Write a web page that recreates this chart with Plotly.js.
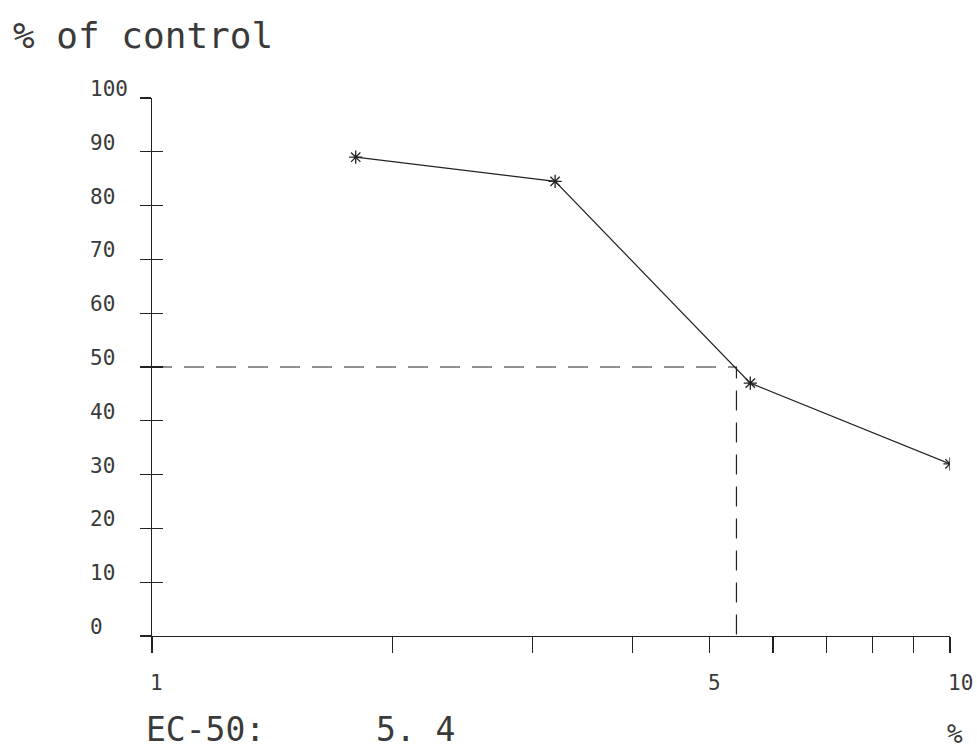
<!DOCTYPE html>
<html>
<head>
<meta charset="utf-8">
<script src="https://cdn.plot.ly/plotly-3.0.1.min.js"></script>
<style>html,body{margin:0;padding:0;background:#fff;}#chart{width:977px;height:753px;}</style>
</head>
<body>
<div id="chart"></div>
<script>
// ---- data ----
const concentrations = [1.8, 3.2, 5.62, 10];
const percentOfControl = [89, 84.5, 47, 32];
const ec50 = 5.4;
const ec50Level = 50;
const yTickValues = [0, 10, 20, 30, 40, 50, 60, 70, 80, 90, 100];
const yTickLabels = ['0', '10', '20', '30', '40', '50', '60', '70', '80', '90', '100'];
const xTickMarks = [1, 2, 3, 4, 5, 6, 7, 8, 9, 10];
const xLabelValues = [1, 5, 10];
const xLabelTexts = ['1', '5', '10'];
const titleText = '% of control';
const ec50Label = 'EC-50:';
const ec50Text = '5. 4';
const unitText = '%';

const ink = '#222';
const textInk = '#3a3a3a';
const FONT = 'DejaVu Sans Mono, monospace';

const traces = [
  {
    x: concentrations, y: percentOfControl, type: 'scatter', mode: 'lines+markers',
    line: {color: ink, width: 1.2},
    marker: {symbol: 'asterisk-open', size: 11, color: ink, line: {color: ink, width: 1.3}},
    hoverinfo: 'skip', showlegend: false
  },
  {
    x: [1, ec50, ec50], y: [ec50Level, ec50Level, 0], type: 'scatter', mode: 'lines',
    yaxis: 'y2',
    line: {color: ink, width: 1.2, dash: '20px,12px'},
    hoverinfo: 'skip', showlegend: false
  }
];

const annotations = [];
yTickValues.forEach((v, i) => {
  annotations.push({
    text: yTickLabels[i], xref: 'paper', yref: 'y', x: 0, y: v,
    xanchor: 'left', yanchor: 'bottom', xshift: -64, yshift: -5,
    showarrow: false, font: {family: FONT, size: 21, color: textInk}
  });
});
xLabelValues.forEach((v, i) => {
  annotations.push({
    text: xLabelTexts[i], xref: 'x', yref: 'paper', x: Math.log10(v), y: 0,
    xanchor: 'left', yanchor: 'top', xshift: -4, yshift: -33,
    showarrow: false, font: {family: FONT, size: 21, color: textInk}
  });
});
annotations.push({
  text: ec50Label, xref: 'paper', yref: 'paper', x: 0, y: 0,
  xanchor: 'left', yanchor: 'top', xshift: -8, yshift: -72,
  showarrow: false, font: {family: FONT, size: 33, color: textInk}
});
annotations.push({
  text: ec50Text, xref: 'paper', yref: 'paper', x: 0, y: 0,
  xanchor: 'left', yanchor: 'top', xshift: 222, yshift: -72,
  showarrow: false, font: {family: FONT, size: 33, color: textInk}
});
annotations.push({
  text: unitText, xref: 'paper', yref: 'paper', x: 1, y: 0,
  xanchor: 'left', yanchor: 'bottom', xshift: -5, yshift: -115,
  showarrow: false, font: {family: FONT, size: 26, color: textInk}
});

const layout = {
  width: 977, height: 753,
  margin: {l: 152, r: 27, t: 98, b: 117},
  paper_bgcolor: '#fff', plot_bgcolor: '#fff',
  showlegend: false,
  title: {
    text: titleText, x: 13 / 977, xanchor: 'left', xref: 'container',
    y: 1 - 35 / 753, yanchor: 'middle', yref: 'container',
    font: {family: FONT, size: 36, color: textInk}
  },
  xaxis: {
    type: 'log', range: [0, 1], showline: true, linecolor: ink, linewidth: 1.2,
    ticks: 'outside', ticklen: 16, tickwidth: 1.2, tickcolor: ink,
    tickvals: xTickMarks, showticklabels: false,
    showgrid: false, zeroline: false, fixedrange: true
  },
  yaxis: {
    range: [0, 100], showline: true, linecolor: ink, linewidth: 1.2,
    ticks: 'outside', ticklen: 11, tickwidth: 1.2, tickcolor: ink,
    tickvals: yTickValues, showticklabels: false,
    showgrid: false, zeroline: false, fixedrange: true
  },
  yaxis2: {
    overlaying: 'y', anchor: 'x', side: 'left', range: [0, 100],
    ticks: 'inside', ticklen: 11, tickwidth: 1.2, tickcolor: ink,
    tickvals: yTickValues, showticklabels: false, showline: false,
    showgrid: false, zeroline: false, fixedrange: true
  },
  annotations: annotations
};

Plotly.newPlot('chart', traces, layout, {displayModeBar: false, staticPlot: true});
</script>
</body>
</html>
